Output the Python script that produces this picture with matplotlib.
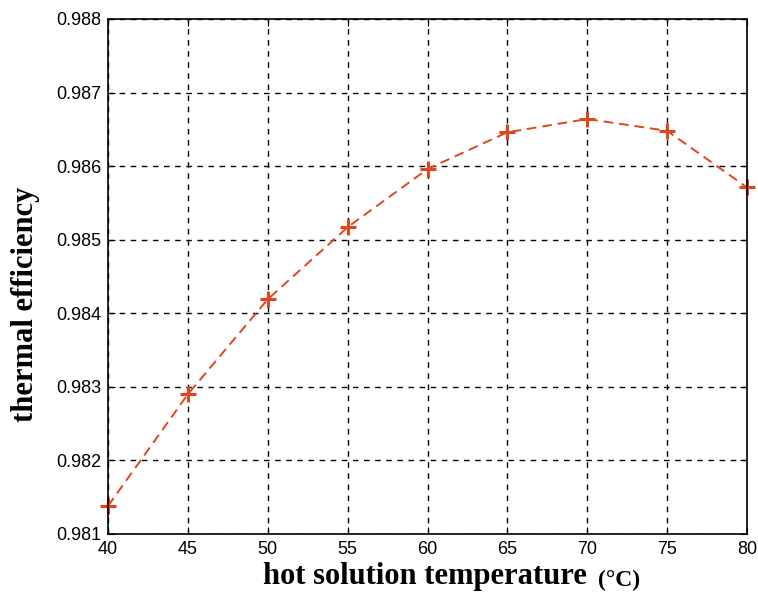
import matplotlib
matplotlib.use('Agg')
import matplotlib.pyplot as plt

# data
temperature = [40, 45, 50, 55, 60, 65, 70, 75, 80]
efficiency = [0.98138, 0.98290, 0.98419, 0.98517, 0.98596,
              0.98646, 0.98664, 0.98648, 0.98571]
x_ticks = [40, 45, 50, 55, 60, 65, 70, 75, 80]
y_ticks = [0.981, 0.982, 0.983, 0.984, 0.985, 0.986, 0.987, 0.988]

LINE = '#e0461c'

fig = plt.figure(figsize=(7.58, 5.93), dpi=100)
ax = fig.add_axes([0.1425, 0.0995, 0.843, 0.8685])

ax.plot(temperature, efficiency, color=LINE, linestyle=(0, (5, 3)), linewidth=1.4,
        marker='+', markersize=11, markeredgewidth=2.2, clip_on=False)

ax.set_xlim(40, 80)
ax.set_ylim(0.981, 0.988)
ax.set_xticks(x_ticks)
ax.set_yticks(y_ticks)
ax.set_yticklabels([f'{v:.3f}' for v in y_ticks])
ax.grid(True, color='black', linestyle=(0, (4, 4)), linewidth=1)
ax.tick_params(direction='in', length=5, top=True, right=True,
               labelsize=13, colors='black', pad=5)
for lab in ax.get_xticklabels() + ax.get_yticklabels():
    lab.set_family('Liberation Sans')
for s in ax.spines.values():
    s.set_linewidth(1.2)

fig.text(0.347, 0.016, 'hot solution temperature', family='Liberation Serif',
         fontweight='bold', fontsize=22, ha='left', va='baseline')
fig.text(0.789, 0.012, '(°C)', family='Liberation Serif',
         fontweight='bold', fontsize=17, ha='left', va='baseline')
fig.text(0.034, 0.486, 'thermal efficiency', family='Liberation Serif',
         fontweight='bold', fontsize=22, rotation=90, ha='center', va='center')

fig.savefig('out.png', dpi=100, facecolor='white')
